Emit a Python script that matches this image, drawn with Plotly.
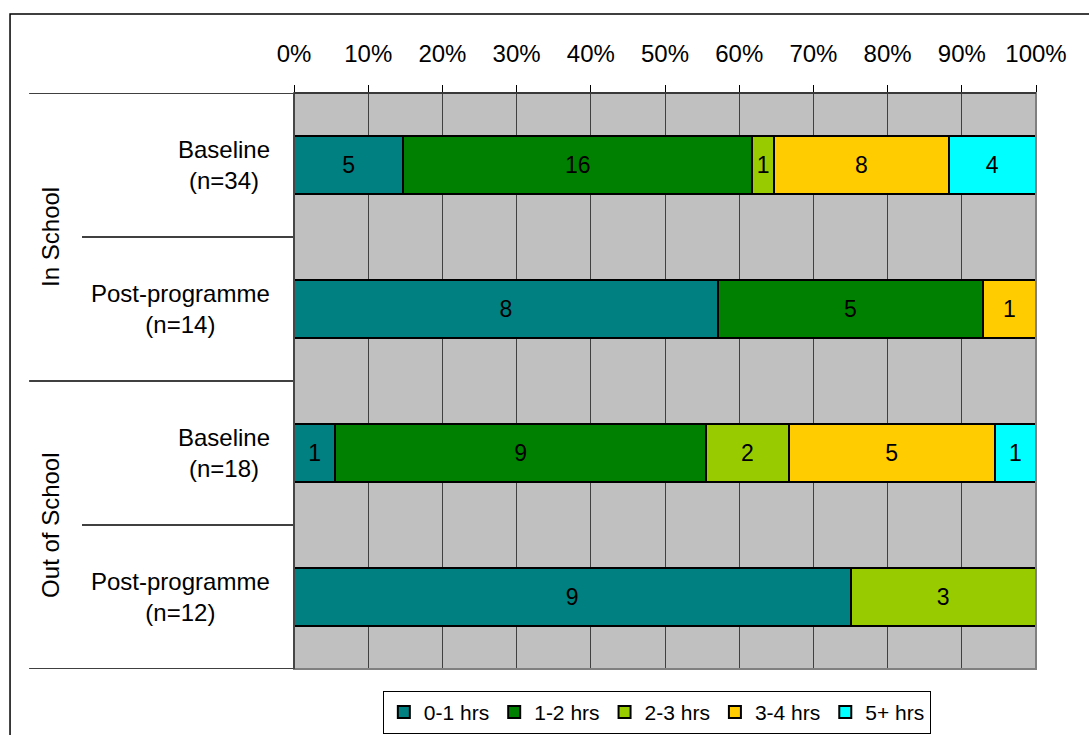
import plotly.graph_objects as go

# Survey groups (top to bottom) and respondent counts per time band
groups = ["In School", "In School", "Out of School", "Out of School"]
stages = ["Baseline", "Post-programme", "Baseline", "Post-programme"]
sample_sizes = [34, 14, 18, 12]

bands = ["0-1 hrs", "1-2 hrs", "2-3 hrs", "3-4 hrs", "5+ hrs"]
counts_0_1 = [5, 8, 1, 9]
counts_1_2 = [16, 5, 9, 0]
counts_2_3 = [1, 0, 2, 3]
counts_3_4 = [8, 1, 5, 0]
counts_5_plus = [4, 0, 1, 0]
band_colors = ["#008080", "#008000", "#99CC00", "#FFCC00", "#00FFFF"]

tick_values = [i / 10 for i in range(11)]
tick_labels = [f"{i * 10}%" for i in range(11)]

FONT = "Liberation Sans, Arial, sans-serif"

series = [counts_0_1, counts_1_2, counts_2_3, counts_3_4, counts_5_plus]
rows = list(range(len(stages)))

fig = go.Figure()
for name, counts, color in zip(bands, series, band_colors):
    shares = [c / n for c, n in zip(counts, sample_sizes)]
    fig.add_trace(go.Bar(
        y=rows,
        x=shares,
        name=name,
        orientation="h",
        marker=dict(color=color, line=dict(color="black", width=2)),
        text=[str(c) if c else "" for c in counts],
        textposition="inside",
        insidetextanchor="middle",
        textangle=0,
        constraintext="none",
        textfont=dict(family=FONT, size=23, color="black"),
        insidetextfont=dict(family=FONT, size=23, color="black"),
        hoverinfo="skip",
    ))

# Row labels (stage and sample size)
annotations = []
for r, (stage, n) in enumerate(zip(stages, sample_sizes)):
    annotations.append(dict(
        x=-0.0296, xref="paper", y=r, yref="y",
        text=f"{stage}<br>(n={n})", showarrow=False,
        xanchor="right", yanchor="middle", align="center",
        font=dict(family=FONT, size=24, color="black"),
    ))

# Group labels, rotated
for label, centre in [("In School", 0.5), ("Out of School", 2.5)]:
    annotations.append(dict(
        x=-0.329, xref="paper", y=centre, yref="y",
        text=label, showarrow=False, textangle=-90,
        xanchor="center", yanchor="middle",
        font=dict(family=FONT, size=24, color="black"),
    ))

shapes = []
# Separator lines in the label column
for y_pos, x0 in [(-0.5, -0.357), (0.5, -0.2857), (1.5, -0.357), (2.5, -0.2857), (3.5, -0.357)]:
    shapes.append(dict(type="line", xref="paper", yref="y", x0=x0, x1=0,
                       y0=y_pos, y1=y_pos, line=dict(color="black", width=1.5)))
# Plot frame
shapes.append(dict(type="rect", xref="paper", yref="paper", x0=0, x1=1, y0=0, y1=1,
                   line=dict(color="#808080", width=2), layer="above"))
shapes.append(dict(type="line", xref="paper", yref="paper", x0=0, x1=1, y0=1, y1=1,
                   line=dict(color="#222222", width=1.5), layer="above"))
shapes.append(dict(type="line", xref="paper", yref="paper", x0=0, x1=0, y0=0, y1=1,
                   line=dict(color="#333333", width=1.5), layer="above"))
# Outer chart border
shapes.append(dict(type="rect", xref="paper", yref="paper",
                   x0=-0.3827, x1=1.09, y0=-0.14, y1=1.137,
                   line=dict(color="black", width=1.5), layer="below"))

fig.update_layout(
    barmode="stack",
    bargap=0.6,
    width=1089,
    height=735,
    margin=dict(l=294, r=53, t=93, b=66, autoexpand=False),
    paper_bgcolor="white",
    plot_bgcolor="#C0C0C0",
    font=dict(family=FONT, size=23, color="black"),
    xaxis=dict(
        side="top",
        range=[0, 1],
        tickvals=tick_values,
        ticktext=tick_labels,
        ticks="outside",
        ticklen=7,
        tickcolor="black",
        ticklabelstandoff=13,
        tickfont=dict(family=FONT, size=24, color="black"),
        showgrid=True,
        gridcolor="#404040",
        gridwidth=1,
        zeroline=False,
        showline=False,
        fixedrange=True,
    ),
    yaxis=dict(
        range=[3.5, -0.5],
        showticklabels=False,
        showgrid=False,
        zeroline=False,
        ticks="",
        fixedrange=True,
    ),
    legend=dict(
        orientation="h",
        x=0.489, xanchor="center",
        y=-0.038, yanchor="top",
        bordercolor="black",
        borderwidth=1,
        bgcolor="white",
        font=dict(family=FONT, size=21, color="black"),
        itemsizing="constant",
        traceorder="normal",
    ),
    annotations=annotations,
    shapes=shapes,
    showlegend=True,
)

fig.write_html("out.html")
